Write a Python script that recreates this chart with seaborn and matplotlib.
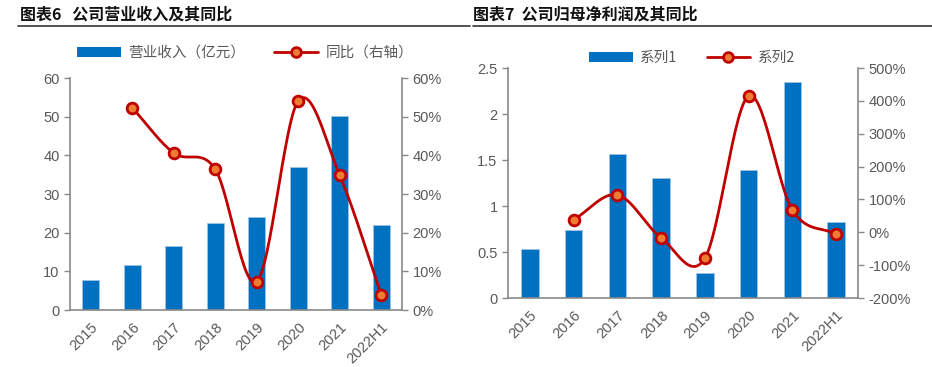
import numpy as np
import pandas as pd
import seaborn as sns
import matplotlib.pyplot as plt
from matplotlib.patches import Patch
from matplotlib.lines import Line2D
from matplotlib.ticker import FuncFormatter, MultipleLocator

sns.set_style("white")
plt.rcParams["font.family"] = ["Liberation Sans", "Noto Sans CJK SC", "DejaVu Sans"]

years = ["2015", "2016", "2017", "2018", "2019", "2020", "2021", "2022H1"]

# chart 6: revenue (100m yuan) and yoy (%)
revenue = [7.8, 11.6, 16.5, 22.4, 24.0, 37.1, 50.2, 22.0]
revenue_yoy = [None, 52.3, 40.6, 36.4, 7.3, 54.1, 34.8, 4.0]

# chart 7: net profit and yoy (%)
profit = [0.53, 0.74, 1.57, 1.30, 0.27, 1.39, 2.35, 0.83]
profit_yoy = [None, 38, 114, -17, -79, 415, 68, -6]

BLUE = "#0070C0"
RED = "#C00000"
ORANGE = "#ED7D31"
GREY = "#595959"
SPINE = "#898989"


def smooth(xs, ys, n=30):
    # Catmull-Rom curve through the points, like Excel's smoothed line
    xs = np.asarray(xs, float)
    ys = np.asarray(ys, float)
    px = np.concatenate([[2 * xs[0] - xs[1]], xs, [2 * xs[-1] - xs[-2]]])
    py = np.concatenate([[2 * ys[0] - ys[1]], ys, [2 * ys[-1] - ys[-2]]])
    outx, outy = [], []
    t = np.linspace(0, 1, n)
    for i in range(1, len(px) - 2):
        for p, out in ((px, outx), (py, outy)):
            p0, p1, p2, p3 = p[i - 1], p[i], p[i + 1], p[i + 2]
            out.extend(0.5 * (2 * p1 + (-p0 + p2) * t
                              + (2 * p0 - 5 * p1 + 4 * p2 - p3) * t ** 2
                              + (-p0 + 3 * p1 - 3 * p2 + p3) * t ** 3))
    return outx, outy


def style_axes(ax, ax2):
    for a in (ax, ax2):
        for s in a.spines.values():
            s.set_visible(False)
        a.tick_params(colors=GREY, labelsize=10.5, length=4, width=1, color=SPINE)
    ax.spines["left"].set_visible(True)
    ax.spines["bottom"].set_visible(True)
    ax2.spines["right"].set_visible(True)
    for s in (ax.spines["left"], ax.spines["bottom"], ax2.spines["right"]):
        s.set_color(SPINE)
        s.set_linewidth(1.2)
    ax.set_xticks(np.arange(len(years) + 1) - 0.5, minor=True)
    ax.tick_params(axis="x", which="minor", length=5, color=SPINE, width=1)
    ax.tick_params(axis="x", which="major", length=0, pad=7)
    ax.tick_params(axis="y", left=True)
    ax2.tick_params(axis="y", right=True)
    plt.setp(ax.get_xticklabels(), rotation=45, ha="right", rotation_mode="anchor")
    ax.set_xlim(-0.5, len(years) - 0.5)
    ax.set_xlabel("")
    ax.set_ylabel("")


def draw(rect, bars, yoy, ylim, ystep, y2lim, y2step, ylabfmt, labels, legend_xy):
    ax = fig.add_axes(rect)
    df = pd.DataFrame({"year": years, "value": bars})
    sns.barplot(data=df, x="year", y="value", color=BLUE, width=0.4,
                saturation=1, edgecolor="#9DC3E6", linewidth=0.6, ax=ax)
    ax2 = ax.twinx()
    idx = [i for i, v in enumerate(yoy) if v is not None]
    vals = [yoy[i] for i in idx]
    cx, cy = smooth(idx, vals)
    ax2.plot(cx, cy, color=RED, lw=2, zorder=3)
    sns.scatterplot(x=idx, y=vals, ax=ax2, color=ORANGE, edgecolor=RED,
                    linewidth=2, s=60, zorder=4)
    ax.set_ylim(*ylim)
    ax.yaxis.set_major_locator(MultipleLocator(ystep))
    ax.yaxis.set_major_formatter(FuncFormatter(ylabfmt))
    ax2.set_ylim(*y2lim)
    ax2.yaxis.set_major_locator(MultipleLocator(y2step))
    ax2.yaxis.set_major_formatter(FuncFormatter(lambda v, p: f"{v:.0f}%"))
    style_axes(ax, ax2)
    handles = [Patch(facecolor=BLUE, edgecolor="none"),
               Line2D([], [], color=RED, lw=2, marker="o", markersize=7,
                      markerfacecolor=ORANGE, markeredgecolor=RED, markeredgewidth=2)]
    fig.legend(handles, labels, loc="center", bbox_to_anchor=legend_xy, ncol=2,
               frameon=False, labelcolor=GREY, handlelength=3,
               handleheight=0.7, columnspacing=2, handletextpad=0.5,
               prop={"family": ["Noto Sans CJK SC"], "size": 10.5})
    return ax, ax2


fig = plt.figure(figsize=(9.32, 3.67), dpi=100)

draw([70 / 932, 57 / 367, 332 / 932, 232 / 367], revenue, revenue_yoy,
     (0, 60), 10, (0, 60), 10, lambda v, p: f"{v:.0f}",
     ["营业收入（亿元）", "同比（右轴）"], (245 / 932, 1 - 53 / 367))

draw([508 / 932, 69 / 367, 350 / 932, 230 / 367], profit, profit_yoy,
     (0, 2.5), 0.5, (-200, 500), 100, lambda v, p: f"{v:g}",
     ["系列1", "系列2"], (692 / 932, 1 - 58 / 367))

# section titles with rule underneath
fig.text(20 / 932, 1 - 15 / 367, "图表6   公司营业收入及其同比", fontsize=11.5,
         fontweight="bold", va="center", family=["Noto Sans CJK SC"], color="#111111")
fig.text(473 / 932, 1 - 15 / 367, "图表7  公司归母净利润及其同比", fontsize=11.5,
         fontweight="bold", va="center", family=["Noto Sans CJK SC"], color="#111111")
fig.add_artist(Line2D([18 / 932, 470 / 932], [1 - 26 / 367] * 2, color="#333333", lw=1.2))
fig.add_artist(Line2D([473 / 932, 932 / 932], [1 - 26 / 367] * 2, color="#333333", lw=1.2))

fig.savefig("out.png", dpi=100)
